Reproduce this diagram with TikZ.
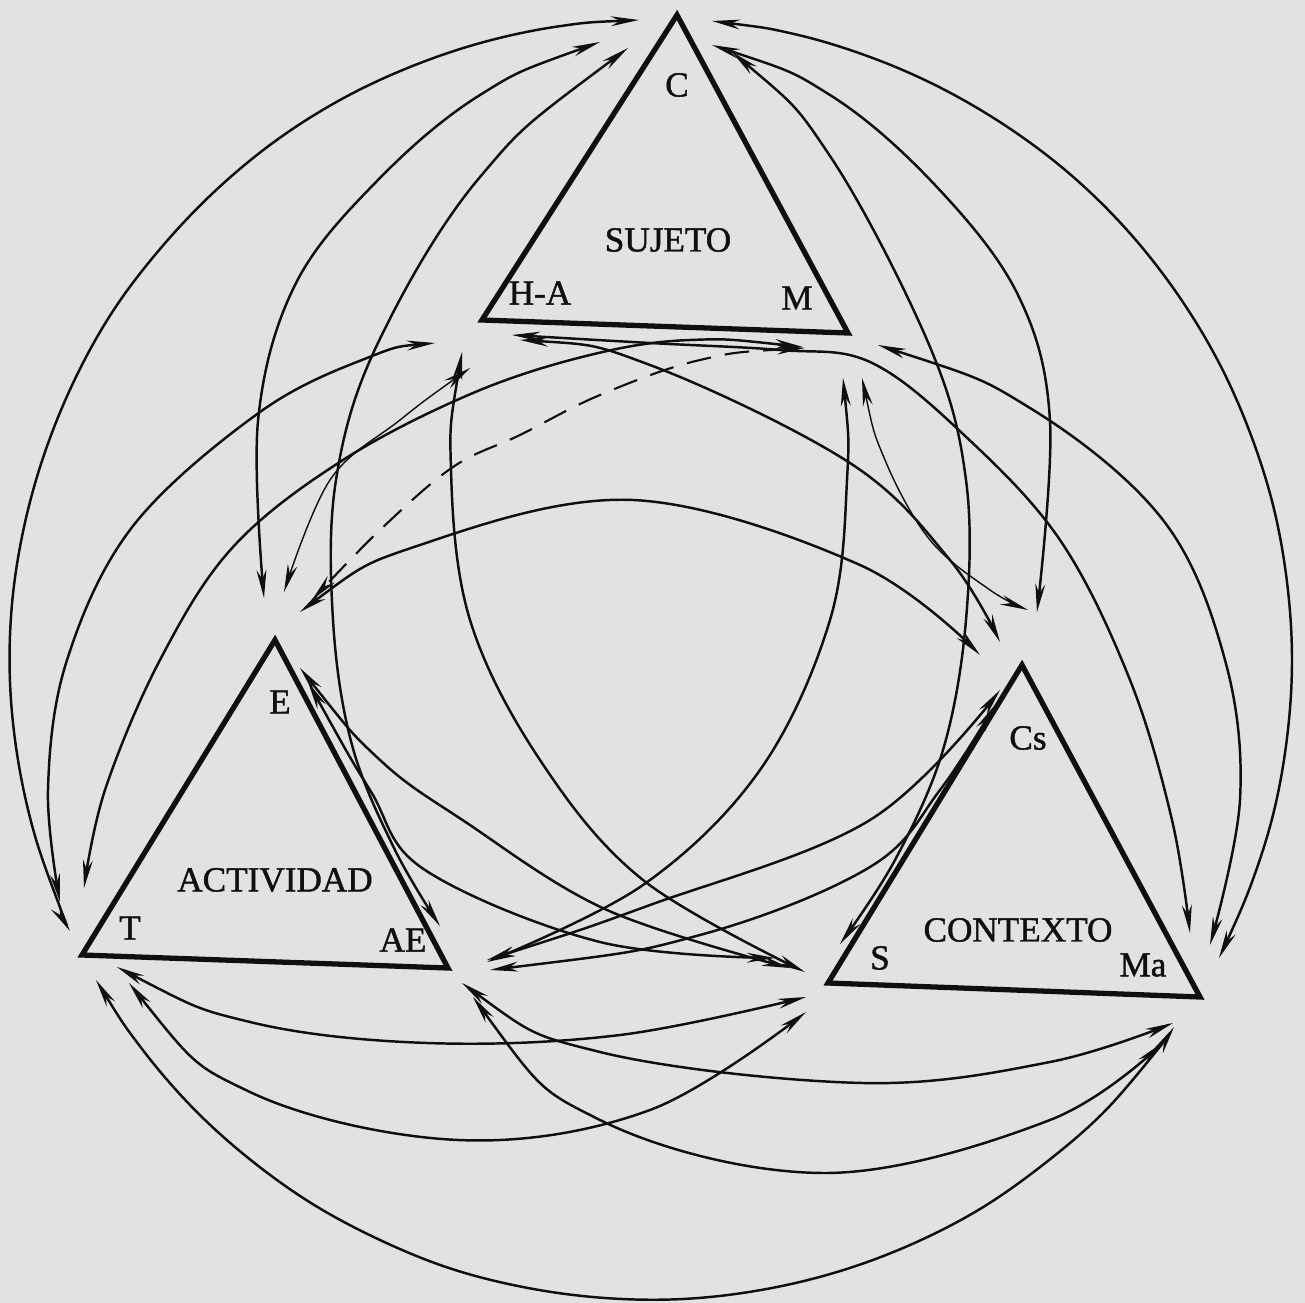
\documentclass[tikz,border=0pt]{standalone}
\usepackage{fontspec}
\setmainfont{Liberation Serif}
\newfontfamily\labfont[FakeBold=1.2]{Liberation Serif}
\usetikzlibrary{arrows.meta}
\definecolor{bgc}{RGB}{226,226,226}
\definecolor{ink}{RGB}{15,15,15}
\begin{document}
\begin{tikzpicture}[x=0.01cm,y=-0.01cm,
  tip/.tip={Stealth[length=8pt,width=2.8pt]},
  conn/.style={draw=ink,line width=0.7pt,tip-tip},
  thinconn/.style={draw=ink,line width=0.4pt,tip-tip},
  dconn/.style={draw=ink,line width=0.6pt,dash pattern=on 7pt off 4pt,tip-tip},
  tri/.style={draw=ink,line width=1.5pt,line join=miter},
  lab/.style={text=ink,font=\labfont\fontsize{10}{12}\selectfont,inner sep=0pt},
  sm/.style={smooth,tension=0.6}]
\fill[bgc] (0,0) rectangle (1305,1303);
\useasboundingbox (0,0) rectangle (1305,1303);
% vertices
\coordinate (C) at (677,15);  \coordinate (HA) at (482,320); \coordinate (M) at (848,333);
\coordinate (E) at (275,640); \coordinate (T) at (82,955);   \coordinate (AE) at (448,968);
\coordinate (Cs) at (1022,665); \coordinate (S) at (828,983); \coordinate (Ma) at (1200,997);
\draw[tri] (C) -- (HA) -- (M) -- cycle;
\draw[tri] (E) -- (T) -- (AE) -- cycle;
\draw[tri] (Cs) -- (S) -- (Ma) -- cycle;
% labels
\node[lab] (lC) at (677,85) {C};
\node[lab] (lSuj) at (668,240) {SUJETO};
\node[lab] (lHA) at (540,293) {H-A};
\node[lab] (lM) at (797,298) {M};
\node[lab] (lE) at (280,702) {E};
\node[lab] (lAct) at (275,880) {ACTIVIDAD};
\node[lab] (lT) at (130,928) {T};
\node[lab] (lAE) at (403,940) {AE};
\node[lab] (lCs) at (1028,738) {Cs};
\node[lab] (lCon) at (1018,930) {CONTEXTO};
\node[lab] (lS) at (880,958) {S};
\node[lab] (lMa) at (1143,965) {Ma};
% connector end points
\coordinate (CT1) at (639,20);  \coordinate (CT2) at (70,931);
\coordinate (CMa1) at (712,21); \coordinate (CMa2) at (1219,958);
\coordinate (TMa1) at (96,980); \coordinate (TMa2) at (1174,1027);
\coordinate (CE1) at (600,42);  \coordinate (CE2) at (264,598);
\coordinate (CCs1) at (712,45); \coordinate (CCs2) at (1037,612);
\coordinate (CAE1) at (628,48); \coordinate (CAE2) at (440,926);
\coordinate (CS1) at (732,52);  \coordinate (CS2) at (840,944);
\coordinate (MAE1) at (843,378); \coordinate (MAE2) at (487,962);
\coordinate (HAS1) at (462,352); \coordinate (HAS2) at (805,972);
\coordinate (ECs1) at (300,612); \coordinate (ECs2) at (980,655);
\coordinate (HAT1) at (435,343); \coordinate (HAT2) at (60,902);
\coordinate (MT1) at (803,347);  \coordinate (MT2) at (84,888);
\coordinate (MMa1) at (878,345); \coordinate (MMa2) at (1210,945);
\coordinate (HAMa1) at (512,335); \coordinate (HAMa2) at (1190,933);
\coordinate (HACs1) at (520,340); \coordinate (HACs2) at (1000,642);
\coordinate (ME1) at (805,348);  \coordinate (ME2) at (312,600);
\coordinate (HAE1) at (470,368); \coordinate (HAE2) at (284,592);
\coordinate (MCs1) at (862,378); \coordinate (MCs2) at (1028,610);
\coordinate (TS1) at (117,967);  \coordinate (TS2) at (806,997);
\coordinate (TSb1) at (129,983); \coordinate (TSb2) at (806,1012);
\coordinate (AEMa1) at (462,983); \coordinate (AEMa2) at (1173,1023);
\coordinate (AEMb1) at (473,997); \coordinate (AEMb2) at (1162,1043);
\coordinate (ES1) at (300,668);  \coordinate (ES2) at (790,968);
\coordinate (ESb1) at (308,682); \coordinate (ESb2) at (775,958);
\coordinate (AECs1) at (487,960); \coordinate (AECs2) at (1000,690);
\coordinate (AECb1) at (490,970); \coordinate (AECb2) at (995,705);
% outer circle arcs
\draw[conn] plot[sm] coordinates {(CT1) (561,26) (484,42) (410,67) (340,100) (274,142) (214,192) (160,249) (113,311) (75,379) (45,452) (24,527) (12,604) (10,682) (18,760) (35,836) (61,910) (CT2)};
\draw[conn] plot[sm] coordinates {(CMa1) (794,34) (870,57) (941,88) (1009,128) (1071,175) (1127,230) (1176,292) (1217,359) (1249,430) (1273,505) (1287,582) (1292,660) (1287,738) (1273,815) (1249,890) (CMa2)};
\draw[conn] plot[sm] coordinates {(TMa1) (139,1045) (190,1105) (247,1157) (311,1203) (380,1240) (452,1269) (528,1288) (605,1298) (683,1299) (761,1290) (837,1272) (910,1245) (980,1209) (1044,1164) (1103,1113) (1154,1054) (TMa2)};
% from C
\draw[conn] plot[sm] coordinates {(CE1) (480,95) (377,181) (295,285) (258,421) (CE2)};
\draw[conn] plot[sm] coordinates {(CCs1) (830,95) (935,185) (1018,295) (1050,421) (CCs2)};
\draw[conn] plot[sm] coordinates {(CAE1) (480,177) (377,345) (336,480) (333,620) (352,745) (395,850) (CAE2)};
\draw[conn] plot[sm] coordinates {(CS1) (830,156) (930,347) (966,480) (966,620) (943,750) (895,860) (CS2)};
% inner arcs
\draw[conn] plot[sm] coordinates {(MAE1) (847,480) (830,620) (760,770) (643,885) (MAE2)};
\draw[conn] plot[sm] coordinates {(HAS1) (451,470) (470,620) (540,760) (643,880) (HAS2)};
\draw[conn] plot[sm] coordinates {(ECs1) (420,545) (633,500) (860,565) (ECs2)};
% sides
\draw[conn] plot[sm] coordinates {(HAT1) (367,358) (260,412) (133,526) (67,660) (48,790) (HAT2)};
\draw[conn] plot[sm] coordinates {(MT1) (690,340) (590,355) (473,393) (343,460) (233,547) (160,660) (105,790) (MT2)};
\draw[conn] plot[sm] coordinates {(MMa1) (1030,408) (1163,520) (1225,660) (1240,800) (MMa2)};
\draw[conn] plot[sm] coordinates {(HAMa1) (650,343) (780,350) (870,362) (963,434) (1060,540) (1130,680) (1172,820) (HAMa2)};
\draw[conn] plot[sm] coordinates {(HACs1) (650,365) (850,463) (950,560) (HACs2)};
\draw[dconn] plot[sm] coordinates {(ME1) (700,360) (600,395) (520,435) (453,467) (380,530) (ME2)};
\draw[thinconn] plot[sm] coordinates {(HAE1) (400,420) (330,480) (HAE2)};
\draw[thinconn] plot[sm] coordinates {(MCs1) (885,460) (930,540) (990,590) (MCs2)};
% bottom
\draw[conn] plot[sm] coordinates {(TS1) (250,1022) (427,1043) (620,1035) (TS2)};
\draw[conn] plot[sm] coordinates {(TSb1) (250,1092) (458,1140) (650,1110) (TSb2)};
\draw[conn] plot[sm] coordinates {(AEMa1) (600,1052) (863,1083) (1050,1062) (AEMa2)};
\draw[conn] plot[sm] coordinates {(AEMb1) (600,1120) (825,1173) (1050,1120) (AEMb2)};
\draw[conn] plot[sm] coordinates {(ES1) (380,760) (464,821) (607,910) (ES2)};
\draw[conn] plot[sm] coordinates {(ESb1) (370,790) (425,870) (600,942) (ESb2)};
\draw[conn] plot[sm] coordinates {(AECs1) (650,905) (870,820) (AECs2)};
\draw[conn] plot[sm] coordinates {(AECb1) (700,935) (870,867) (940,790) (AECb2)};
\end{tikzpicture}
\end{document}
